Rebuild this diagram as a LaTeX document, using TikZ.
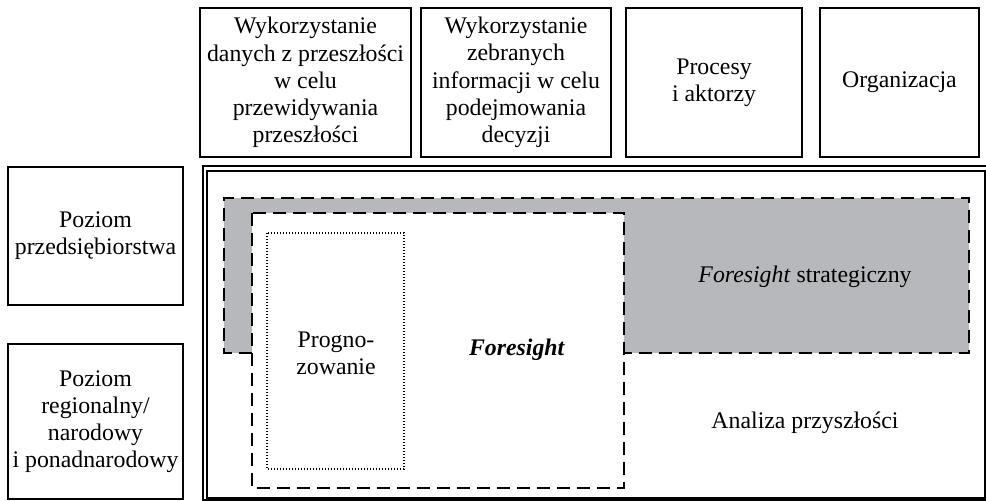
\documentclass[tikz,border=0pt]{standalone}
\usepackage{fontspec}
\setmainfont{Liberation Serif}
\definecolor{greyfill}{RGB}{183,184,188}

\begin{document}
\begin{tikzpicture}[x=0.5pt,y=-0.5pt,
  box/.style={draw, line width=0.7pt, inner sep=0pt, align=center,
    font=\fontsize{11.9}{13.6}\selectfont},
  txt/.style={inner sep=0pt, align=center, font=\fontsize{11.9}{13.6}\selectfont},
  area/.style={line width=1pt, dash pattern=on 6.5pt off 3.5pt}]
\useasboundingbox (0,0) rectangle (986,501);

\node[box, minimum width=105.5pt, minimum height=74.5pt] (dane) at (305.5,82.5) {Wykorzystanie\\danych z przeszłości\\w celu\\przewidywania\\przeszłości};
\node[box, minimum width=95pt, minimum height=74.5pt] (info) at (516,82.5) {Wykorzystanie\\zebranych\\informacji w celu\\podejmowania\\decyzji};
\node[box, minimum width=88pt, minimum height=74.5pt] (proc) at (714,82.5) {Procesy\\i aktorzy};
\node[box, minimum width=79.5pt, minimum height=74.5pt] (org) at (899.5,82.5) {Organizacja};

\node[box, minimum width=87.5pt, minimum height=69pt] (firma) at (95.5,236) {Poziom\\przedsiębiorstwa};
\node[box, minimum width=87.5pt, minimum height=77.5pt] (region) at (95.5,421.5) {Poziom\\regionalny/\\narodowy\\i ponadnarodowy};

% double frame
\draw[line width=1pt] (203,166) rectangle (989,500.5);
\draw[line width=0.6pt] (207,171) rectangle (985,498);

% strategic foresight (grey L)
\fill[greyfill] (224,198) rectangle (969,353);
\fill[white] (252,213) rectangle (624,488);
\draw[area] (252,353) -- (224,353) -- (224,198) -- (969,198) -- (969,353) -- (624,353);
\draw[area] (252,213) rectangle (624,488);
\draw[line width=0.7pt, dash pattern=on 0.6pt off 0.9pt] (267,233) rectangle (404,469);

\node[txt] (progn) at (336,353) {Progno-\\zowanie};
\node[txt] (fore) at (517,350) {\textbf{\textit{Foresight}}};
\node[txt] (strat) at (805,277) {\textit{Foresight} strategiczny};
\node[txt] (anal) at (805,423) {Analiza przyszłości};
\end{tikzpicture}
\end{document}
